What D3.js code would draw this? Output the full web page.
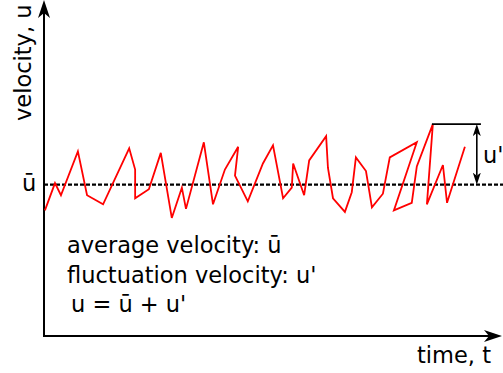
<!DOCTYPE html>
<html>
<head>
<meta charset="utf-8">
<script src="https://cdn.jsdelivr.net/npm/d3@7"></script>
<style>
  html, body { margin: 0; padding: 0; background: #fff; }
  svg { display: block; }
  text { font-family: "DejaVu Sans", sans-serif; font-size: 22.5px; fill: #000; }
</style>
</head>
<body>
<svg id="chart" width="503" height="373"></svg>
<script>
// Sampled instantaneous velocity u(t) (time in arbitrary units)
const time = [0.2, 2.4, 3.7, 7.4, 9.4, 12.9, 18.6, 19.9, 19.9, 22.9, 25.5, 27.9, 30.1, 31.0,
  34.9, 36.9, 39.5, 42.4, 41.7, 44.5, 47.8, 50.0, 52.2, 54.1, 54.4, 56.8, 57.9, 61.6, 62.0,
  63.1, 65.7, 67.2, 68.1, 70.3, 71.6, 74.0, 75.5, 81.4, 76.4, 80.3, 81.4, 84.9, 83.6, 87.1,
  88.0, 91.9];
const velocity = [0.83, 1.01, 0.93, 1.22, 0.93, 0.87, 1.24, 1.10, 0.91, 0.97, 1.21, 0.78, 0.98, 0.84,
  1.28, 0.87, 1.10, 1.25, 1.06, 0.89, 1.14, 1.26, 0.91, 0.98, 1.14, 0.93, 1.16, 1.32, 1.11,
  0.91, 0.82, 0.95, 1.18, 1.09, 0.85, 0.94, 1.18, 1.28, 0.83, 0.88, 1.12, 1.40, 0.87, 1.13,
  0.88, 1.25];
// Mean velocity and the fluctuation marked by the bracket
const meanVelocity = 1.0;
const peakVelocity = 1.40;
const bracketTime = [84.7, 95.4];
const bracketArrowTime = 94.5;

const labels = {
  yAxis: "velocity, u",
  xAxis: "time, t",
  mean: "ū",
  fluct: "u'",
  legend: ["average velocity: ū", "fluctuation velocity: u'", "u = ū + u'"]
};

const svg = d3.select("#chart");
const W = 503, H = 373;
const x0 = 44, y0 = 336;

const x = d3.scaleLinear().domain([0, 100]).range([x0, 502]);
const y = d3.scaleLinear().domain([0, 2.22]).range([y0, 0]);

// Arrowhead markers
const defs = svg.append("defs");
function arrow(id, len, half, back) {
  defs.append("marker")
    .attr("id", id)
    .attr("markerUnits", "userSpaceOnUse")
    .attr("viewBox", `0 ${-half} ${len} ${2 * half}`)
    .attr("markerWidth", len)
    .attr("markerHeight", 2 * half)
    .attr("refX", back)
    .attr("refY", 0)
    .attr("orient", "auto-start-reverse")
    .append("path")
    .attr("d", `M0,${-half} L${len},0 L0,${half} L${back},0 Z`)
    .attr("fill", "#000");
}
arrow("axisHead", 18, 6, 5);
arrow("smallHead", 12, 4, 3);

// Axes: vertical velocity axis and horizontal time axis
svg.append("path")
  .attr("d", `M${x0},${y(2.22) + 13} V${y0} H${x(100) - 13}`)
  .attr("fill", "none")
  .attr("stroke", "#000")
  .attr("stroke-width", 2)
  .attr("stroke-linejoin", "miter")
  .attr("marker-start", "url(#axisHead)")
  .attr("marker-end", "url(#axisHead)");

// Mean velocity (dashed)
svg.append("line")
  .attr("x1", x0)
  .attr("x2", W)
  .attr("y1", y(meanVelocity))
  .attr("y2", y(meanVelocity))
  .attr("stroke", "#000")
  .attr("stroke-width", 2.2)
  .attr("stroke-dasharray", "4,2");

// Instantaneous velocity trace
const pts = time.map((t, i) => [t, velocity[i]]);
svg.append("path")
  .datum(pts)
  .attr("d", d3.line().x(d => x(d[0])).y(d => y(d[1])))
  .attr("fill", "none")
  .attr("stroke", "#ff0000")
  .attr("stroke-width", 1.8)
  .attr("stroke-linejoin", "miter");

// Fluctuation bracket u'
svg.append("line")
  .attr("x1", x(bracketTime[0]))
  .attr("x2", x(bracketTime[1]))
  .attr("y1", y(peakVelocity))
  .attr("y2", y(peakVelocity))
  .attr("stroke", "#000")
  .attr("stroke-width", 1.6);
svg.append("line")
  .attr("x1", x(bracketArrowTime))
  .attr("x2", x(bracketArrowTime))
  .attr("y1", y(peakVelocity) + 9)
  .attr("y2", y(meanVelocity) - 9)
  .attr("stroke", "#000")
  .attr("stroke-width", 1.6)
  .attr("marker-start", "url(#smallHead)")
  .attr("marker-end", "url(#smallHead)");

// Text
svg.append("text")
  .attr("transform", `translate(31,121) rotate(-90)`)
  .text(labels.yAxis);
svg.append("text").attr("x", 417).attr("y", 363).text(labels.xAxis);
svg.append("text").attr("x", 22).attr("y", 191).text(labels.mean);
svg.append("text").attr("x", 483).attr("y", 163).text(labels.fluct);

const legendX = [67, 67, 71];
const legendY = [253, 283, 312];
svg.selectAll("text.legend")
  .data(labels.legend)
  .enter().append("text")
  .attr("class", "legend")
  .attr("x", (d, i) => legendX[i])
  .attr("y", (d, i) => legendY[i])
  .text(d => d);
</script>
</body>
</html>
